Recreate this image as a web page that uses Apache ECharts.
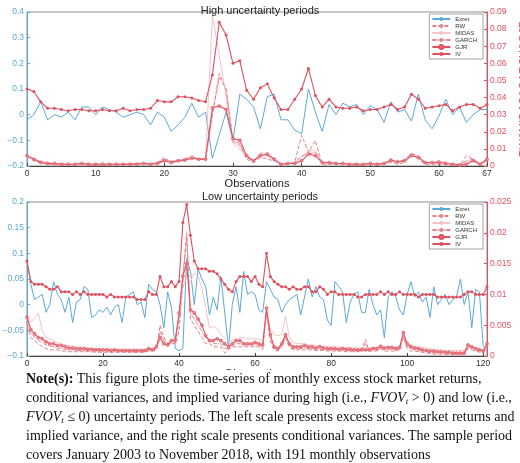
<!DOCTYPE html>
<html><head><meta charset="utf-8">
<script src="https://cdn.jsdelivr.net/npm/echarts@6/dist/echarts.min.js"></script>
<style>
body{margin:0;background:#fff;width:520px;height:463px;overflow:hidden}
#c{width:520px;height:370px}
#note{position:absolute;left:26px;top:369px;width:492px;font-family:"Liberation Serif","DejaVu Serif",serif;font-size:14px;line-height:19px;color:#111}
#note sub{font-size:9px;line-height:0;vertical-align:-2px}
</style></head><body>
<div id="c"></div>
<div id="note"><b>Note(s):</b> This figure plots the time-series of monthly excess stock market returns, conditional variances, and implied variance during high (i.e., <i>FVOV<sub>t</sub></i> &gt; 0) and low (i.e., <i>FVOV<sub>t</sub></i> ≤ 0) uncertainty periods. The left scale presents excess stock market returns and implied variance, and the right scale presents conditional variances. The sample period covers January 2003 to November 2018, with 191 monthly observations</div>
<script>
const seriesNames=['Exret','RW','MIDAS','GARCH','GJR','IV'];
const topExret=[-0.02,0.0,0.05,-0.02,0.0,-0.01,0.01,-0.02,0.03,0.03,0.0,0.03,0.02,0.01,-0.01,0.0,0.01,0.0,-0.04,0.01,-0.01,-0.065,-0.04,-0.01,0.045,-0.01,0.01,-0.17,-0.08,0.01,-0.1,0.08,0.06,0.03,-0.055,0.07,0.08,-0.02,-0.02,-0.06,-0.075,0.1,0.01,-0.065,0.04,0.0,0.045,0.03,0.04,0.0,0.035,0.02,-0.03,0.05,0.01,0.02,-0.025,0.08,-0.02,-0.055,-0.005,0.06,0.0,0.03,-0.03,0.0,0.02,0.02];
const topIV=[0.1,0.09,0.05,0.025,0.025,0.02,0.015,0.02,0.02,0.015,0.015,0.02,0.015,0.015,0.025,0.015,0.02,0.02,0.025,0.055,0.05,0.05,0.07,0.07,0.065,0.055,0.05,0.155,0.36,0.31,0.2,0.21,0.095,0.06,0.105,0.12,0.065,0.02,0.02,0.06,0.1,0.18,0.075,0.03,0.06,0.03,0.025,0.025,0.03,0.015,0.02,0.02,0.03,0.04,0.02,0.03,0.08,0.06,0.025,0.03,0.035,0.04,0.015,0.03,0.04,0.04,0.025,0.04];
const topRW=[0.006,0.003,0.002,0.001,0.001,0.0005,0.0005,0.0005,0.001,0.0005,0.0005,0.0005,0.0005,0.0005,0.001,0.001,0.001,0.0015,0.001,0.002,0.005,0.002,0.003,0.003,0.005,0.004,0.004,0.030,0.054,0.045,0.014,0.012,0.004,0.002,0.005,0.004,0.003,0.0005,0.001,0.002,0.018,0.008,0.015,0.001,0.001,0.001,0.001,0.0005,0.0005,0.0005,0.001,0.0005,0.001,0.002,0.001,0.002,0.008,0.004,0.001,0.001,0.001,0.001,0.0005,0.0005,0.006,0.004,0.001,0.003];
const topMIDAS=[0.005,0.004,0.003,0.002,0.0015,0.0015,0.001,0.001,0.001,0.001,0.001,0.001,0.001,0.001,0.001,0.0015,0.0015,0.0015,0.0015,0.002,0.003,0.003,0.0035,0.004,0.005,0.004,0.004,0.088,0.065,0.04,0.013,0.01,0.005,0.003,0.008,0.006,0.003,0.001,0.0015,0.002,0.005,0.009,0.009,0.002,0.002,0.0015,0.0015,0.001,0.001,0.001,0.001,0.001,0.0015,0.003,0.002,0.003,0.006,0.005,0.002,0.002,0.002,0.0015,0.001,0.001,0.002,0.003,0.001,0.003];
const topGARCH=[0.006,0.004,0.0025,0.0015,0.0015,0.001,0.001,0.001,0.0015,0.001,0.001,0.001,0.001,0.001,0.001,0.001,0.0015,0.0015,0.001,0.002,0.004,0.0025,0.003,0.004,0.006,0.004,0.004,0.03,0.052,0.045,0.015,0.013,0.005,0.003,0.007,0.006,0.004,0.001,0.0015,0.002,0.006,0.007,0.008,0.002,0.002,0.0015,0.0015,0.001,0.001,0.001,0.0015,0.001,0.0015,0.003,0.002,0.004,0.007,0.006,0.002,0.002,0.003,0.002,0.001,0.001,0.003,0.004,0.001,0.004];
const topGJR=[0.006,0.004,0.002,0.0015,0.0015,0.001,0.001,0.001,0.0015,0.001,0.001,0.001,0.001,0.001,0.001,0.001,0.001,0.0015,0.001,0.0015,0.003,0.002,0.003,0.0035,0.0045,0.004,0.004,0.034,0.035,0.033,0.016,0.015,0.006,0.003,0.006,0.007,0.004,0.001,0.0015,0.0015,0.003,0.007,0.006,0.002,0.002,0.0015,0.0015,0.001,0.001,0.001,0.0015,0.001,0.0015,0.0035,0.0025,0.003,0.006,0.005,0.002,0.002,0.002,0.0015,0.001,0.0005,0.001,0.003,0.001,0.004];

const botExret=[0.085,0.04,0.01,0.015,0.02,-0.015,0.0,0.045,0.02,0.01,-0.015,0.015,-0.035,0.005,0.01,0.035,0.03,-0.025,-0.02,-0.01,-0.015,-0.005,-0.02,-0.005,0.0,-0.035,0.015,0.02,0.025,0.0,0.005,-0.025,0.04,0.03,0.025,0.0,-0.045,0.025,-0.005,-0.085,-0.09,-0.085,0.09,0.065,0.0,0.07,0.05,0.035,-0.02,0.015,-0.01,0.055,-0.015,-0.085,0.0,0.035,-0.015,0.065,0.02,0.025,0.02,-0.01,-0.015,0.045,0.03,0.015,0.01,-0.015,0.0,0.01,0.015,0.02,-0.02,0.015,0.05,0.015,0.035,0.015,0.01,-0.03,-0.04,0.045,0.035,0.025,-0.035,0.005,0.02,0.025,-0.015,-0.015,0.03,0.0,-0.02,-0.01,-0.065,0.015,0.025,0.015,-0.01,-0.02,0.02,0.045,0.015,0.025,0.005,0.015,-0.025,0.035,0.0,0.01,0.02,0.0,0.01,0.015,0.05,0.0,0.025,-0.045,0.03,0.025,-0.08,-0.09];
const botIV=[0.085,0.045,0.04,0.04,0.04,0.035,0.03,0.03,0.035,0.025,0.025,0.025,0.02,0.025,0.02,0.025,0.02,0.02,0.02,0.02,0.02,0.015,0.02,0.015,0.015,0.015,0.015,0.015,0.015,0.01,0.01,0.01,0.025,0.02,0.02,0.055,0.035,0.035,0.045,0.035,0.045,0.16,0.195,0.135,0.085,0.07,0.07,0.07,0.065,0.065,0.06,0.05,0.04,0.03,0.025,0.045,0.055,0.055,0.055,0.045,0.055,0.04,0.035,0.1,0.055,0.045,0.04,0.035,0.035,0.03,0.035,0.03,0.03,0.035,0.035,0.025,0.025,0.035,0.03,0.02,0.025,0.025,0.02,0.02,0.02,0.02,0.02,0.015,0.015,0.02,0.02,0.02,0.02,0.025,0.02,0.025,0.02,0.02,0.025,0.02,0.02,0.02,0.02,0.015,0.02,0.02,0.02,0.02,0.015,0.015,0.015,0.015,0.015,0.015,0.015,0.02,0.025,0.025,0.02,0.02,0.02,0.035];
const botRW=[0.005,0.003,0.0025,0.002,0.0015,0.0012,0.001,0.001,0.001,0.0008,0.0008,0.0007,0.0007,0.0007,0.0007,0.0007,0.0007,0.0007,0.0006,0.0006,0.0006,0.0006,0.0006,0.0006,0.0006,0.0006,0.0006,0.0006,0.0006,0.0006,0.0006,0.0006,0.0008,0.0008,0.001,0.005,0.003,0.002,0.002,0.002,0.004,0.012,0.02,0.006,0.005,0.004,0.003,0.002,0.002,0.0015,0.0015,0.0015,0.0005,0.001,0.0015,0.0015,0.0015,0.0015,0.0015,0.0015,0.0015,0.0015,0.001,0.007,0.0025,0.001,0.0008,0.0015,0.003,0.0015,0.001,0.001,0.001,0.001,0.001,0.001,0.0009,0.0009,0.0009,0.0008,0.0008,0.0008,0.0008,0.0008,0.0007,0.0007,0.0007,0.0007,0.0007,0.0027,0.0008,0.0008,0.0008,0.0012,0.0008,0.0008,0.0008,0.0008,0.001,0.003,0.0012,0.0008,0.0008,0.0007,0.0006,0.0005,0.0004,0.0003,0.0003,0.0003,0.0002,0.0002,0.0002,0.0002,0.0002,0.0002,0.0012,0.001,0.0008,0.0006,0.0005,0.0015];
const botMIDAS=[0.0065,0.0055,0.006,0.007,0.004,0.003,0.0028,0.0025,0.0022,0.002,0.0018,0.0017,0.0016,0.0015,0.0014,0.0013,0.0013,0.0012,0.0012,0.0012,0.0011,0.0011,0.0011,0.0011,0.001,0.001,0.001,0.001,0.001,0.001,0.001,0.001,0.0012,0.0012,0.0014,0.0025,0.0022,0.0022,0.0025,0.003,0.006,0.011,0.013,0.012,0.0135,0.013,0.011,0.008,0.0045,0.0048,0.0045,0.0035,0.003,0.0025,0.0025,0.0028,0.003,0.003,0.0028,0.0028,0.0028,0.0027,0.0025,0.0065,0.0045,0.0035,0.0033,0.0035,0.0065,0.003,0.0022,0.002,0.002,0.002,0.0018,0.0018,0.0017,0.0017,0.0016,0.0016,0.0015,0.0015,0.0015,0.0014,0.0014,0.0014,0.0013,0.0013,0.0013,0.0013,0.0013,0.0014,0.0014,0.0015,0.0014,0.0015,0.0015,0.0014,0.0015,0.003,0.0022,0.0018,0.0016,0.0015,0.0014,0.0013,0.0012,0.0011,0.001,0.001,0.0009,0.0009,0.0009,0.0009,0.0009,0.0009,0.0016,0.0015,0.0013,0.0012,0.001,0.0015];
const botGARCH=[0.0055,0.0038,0.003,0.0025,0.0022,0.0018,0.0016,0.0015,0.0013,0.0012,0.0011,0.001,0.001,0.0009,0.0009,0.0009,0.0008,0.0008,0.0008,0.0008,0.0008,0.0008,0.0008,0.0008,0.0008,0.0008,0.0007,0.0007,0.0007,0.0007,0.0007,0.0007,0.001,0.0009,0.0012,0.004,0.0025,0.002,0.002,0.0022,0.006,0.013,0.0195,0.007,0.006,0.005,0.004,0.003,0.0025,0.002,0.002,0.002,0.0012,0.0012,0.0017,0.002,0.002,0.0018,0.0018,0.0018,0.0018,0.0017,0.0014,0.0072,0.003,0.0013,0.001,0.0017,0.0032,0.0017,0.0012,0.0012,0.0012,0.0013,0.0012,0.0012,0.0011,0.0011,0.0011,0.001,0.001,0.001,0.001,0.001,0.0009,0.0009,0.0009,0.0009,0.0009,0.002,0.0009,0.001,0.001,0.0013,0.001,0.0011,0.0011,0.001,0.0012,0.0033,0.0016,0.0012,0.001,0.0009,0.0008,0.0007,0.0006,0.0005,0.0005,0.0005,0.0004,0.0004,0.0003,0.0003,0.0003,0.0003,0.0015,0.0012,0.001,0.0008,0.0006,0.0018];
const botGJR=[0.0063,0.0043,0.0036,0.003,0.0028,0.0023,0.002,0.002,0.0017,0.0017,0.0015,0.0013,0.0013,0.0012,0.0012,0.0012,0.0011,0.0011,0.001,0.001,0.001,0.001,0.0009,0.001,0.0009,0.0009,0.0009,0.0009,0.0009,0.0009,0.0009,0.0009,0.0012,0.001,0.0015,0.003,0.002,0.0018,0.0025,0.0025,0.007,0.013,0.015,0.0075,0.007,0.006,0.005,0.0033,0.0025,0.0025,0.0028,0.0025,0.002,0.0015,0.002,0.0025,0.0025,0.002,0.002,0.002,0.0022,0.002,0.0018,0.0078,0.0035,0.0015,0.0012,0.002,0.0035,0.002,0.0015,0.0015,0.0015,0.0017,0.0015,0.0015,0.0013,0.0015,0.0013,0.0012,0.0012,0.0012,0.0011,0.0012,0.0011,0.0011,0.001,0.001,0.001,0.001,0.001,0.0012,0.0012,0.0016,0.0013,0.0014,0.0014,0.0012,0.0014,0.0038,0.002,0.0015,0.0013,0.0012,0.001,0.0009,0.0008,0.0008,0.0007,0.0007,0.0006,0.0006,0.0005,0.0005,0.0005,0.0005,0.0018,0.0015,0.0012,0.001,0.0008,0.002];

const BLUE='#5aa9d6', RED='#e0505e', RED2='#e8808a', PINK='#f3c4c8';
const pts=a=>a.map((v,i)=>[i,v]);
const chart=echarts.init(document.getElementById('c'));
function yAx(gi,side,min,max,intv,name,color){
  return {type:'value',gridIndex:gi,position:side,min,max,interval:intv,name,nameLocation:'middle',
    nameGap:side==='left'?19:31,nameTextStyle:{color,fontSize:11,fontFamily:'Liberation Sans'},
    axisLine:{show:true,lineStyle:{color}},axisTick:{show:true,inside:true,length:3,lineStyle:{color}},
    splitLine:{show:false},axisLabel:{color,fontSize:8.5,margin:3,fontFamily:'Liberation Sans',
    formatter:v=>{const r=Math.round(v*1000)/1000;return r===0?'0':(r<0?'\u2212'+(-r):String(r));}}};
}
function mk(gi,d){
  return [
   {name:'Exret',type:'line',xAxisIndex:gi,yAxisIndex:gi*2,data:pts(d.ex),symbol:'none',lineStyle:{color:BLUE,width:1},itemStyle:{color:BLUE}},
   {name:'RW',type:'line',xAxisIndex:gi,yAxisIndex:gi*2+1,data:pts(d.rw),symbol:'none',lineStyle:{color:RED2,width:1,type:[4,2]},itemStyle:{color:RED2}},
   {name:'MIDAS',type:'line',xAxisIndex:gi,yAxisIndex:gi*2+1,data:pts(d.mi),symbol:'none',lineStyle:{color:PINK,width:1},itemStyle:{color:PINK}},
   {name:'GARCH',type:'line',xAxisIndex:gi,yAxisIndex:gi*2+1,data:pts(d.ga),symbol:'none',lineStyle:{color:RED2,width:1,type:[4,1,1,1]},itemStyle:{color:RED2}},
   {name:'GJR',type:'line',xAxisIndex:gi,yAxisIndex:gi*2+1,data:pts(d.gj),symbol:'circle',symbolSize:3,lineStyle:{color:RED,width:1.1},itemStyle:{color:RED2,borderColor:RED,borderWidth:0.6}},
   {name:'IV',type:'line',xAxisIndex:gi,yAxisIndex:gi*2,data:pts(d.iv),symbol:'circle',symbolSize:3,lineStyle:{color:RED,width:1.1},itemStyle:{color:RED}}
  ];
}
const xAx=(gi,max,intv,name)=>({type:'value',gridIndex:gi,min:0,max,interval:intv,name,nameLocation:'middle',nameGap:12,
  nameTextStyle:{color:'#222',fontSize:11,fontFamily:'Liberation Sans'},
  axisLine:{onZero:false,lineStyle:{color:'#444'}},axisTick:{inside:true,length:3,lineStyle:{color:'#444'}},
  splitLine:{show:false},axisLabel:{color:'#333',fontSize:8.5,margin:3,fontFamily:'Liberation Sans'}});
const leg=(gi,top)=>({data:seriesNames,orient:'vertical',right:37,top,itemWidth:18,itemHeight:5,itemGap:1,
  padding:[2,6,2,2],backgroundColor:'#fff',borderColor:'#666',borderWidth:0.6,
  textStyle:{fontSize:6,color:'#333',fontFamily:'Liberation Sans'}});
chart.setOption({
  animation:false,
  title:[{text:'High uncertainty periods',left:'center',top:0,textStyle:{fontSize:11,fontWeight:'normal',color:'#222',fontFamily:'Liberation Sans'}},
         {text:'Low uncertainty periods',left:'center',top:186,textStyle:{fontSize:11,fontWeight:'normal',color:'#222',fontFamily:'Liberation Sans'}}],
  legend:[leg(0,14),leg(1,204)],
  grid:[{left:27,right:33,top:12,height:154,show:true,borderColor:'#444',borderWidth:0.6,containLabel:false,outerBoundsMode:'none'},
        {left:27,right:33,top:202,height:154,show:true,borderColor:'#444',borderWidth:0.6,containLabel:false,outerBoundsMode:'none'}],
  xAxis:[xAx(0,67,10,'Observations'),xAx(1,121,20,'Observations')],
  yAxis:[yAx(0,'left',-0.2,0.4,0.1,'Exret&IV',BLUE),yAx(0,'right',0,0.09,0.01,'RW&MIDAS&GARCH&GJR',RED),
         yAx(1,'left',-0.1,0.2,0.05,'Exret&IV',BLUE),yAx(1,'right',0,0.025,0.005,'RW&MIDAS&GARCH&GJR',RED)],
  series:[...mk(0,{ex:topExret,iv:topIV,rw:topRW,mi:topMIDAS,ga:topGARCH,gj:topGJR}),
          ...mk(1,{ex:botExret,iv:botIV,rw:botRW,mi:botMIDAS,ga:botGARCH,gj:botGJR})]
});
</script></body></html>
